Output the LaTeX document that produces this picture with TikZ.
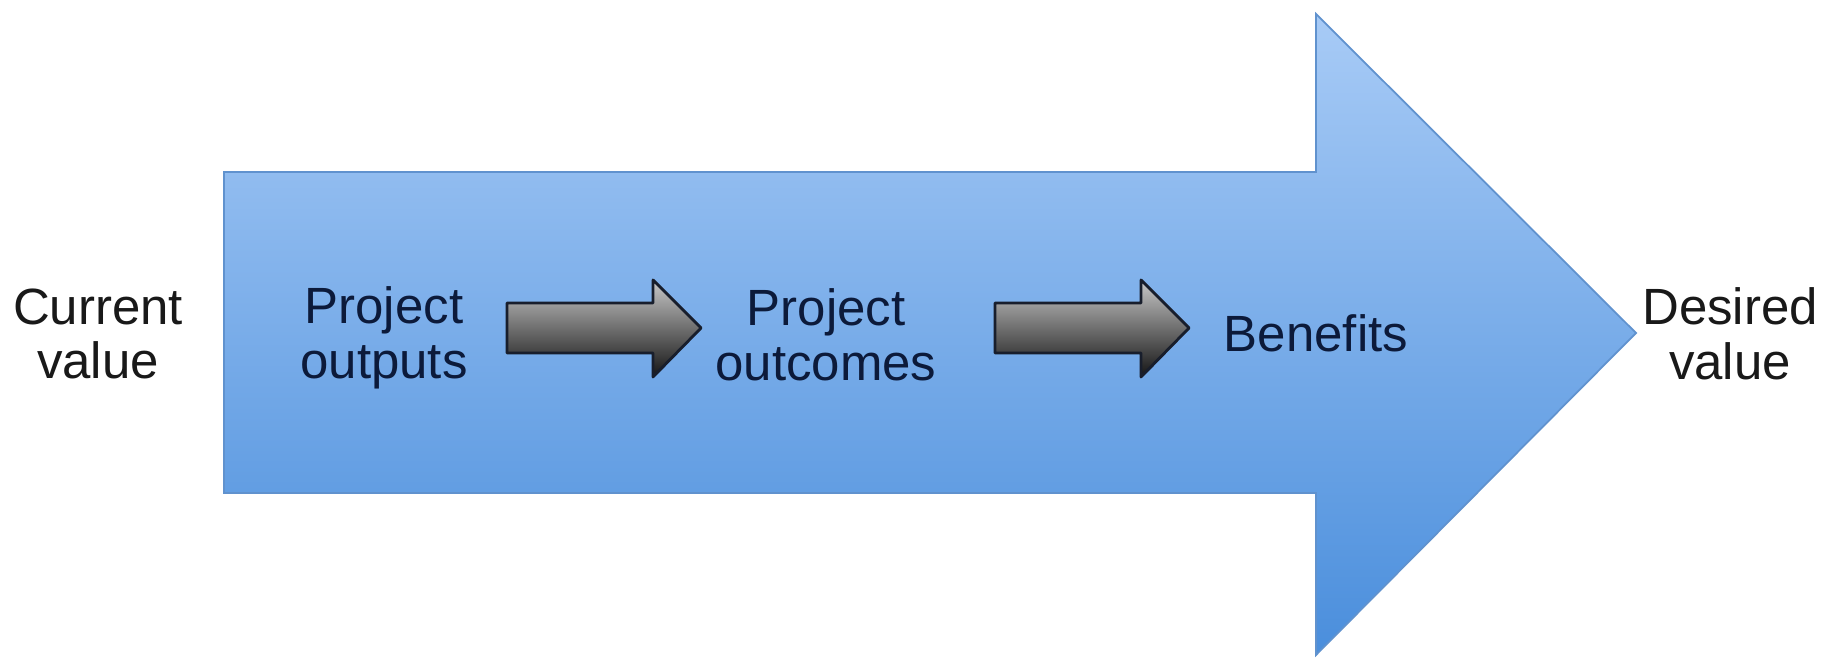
\documentclass[tikz,border=0pt]{standalone}
\usepackage{fontspec}
\setmainfont{Liberation Sans}
\usetikzlibrary{positioning}

\definecolor{arrowtop}{RGB}{168,203,246}
\definecolor{arrowbottom}{RGB}{74,142,220}
\definecolor{arrowline}{RGB}{96,146,206}
\definecolor{navytext}{RGB}{12,26,58}
\definecolor{stubline}{RGB}{24,30,44}

\begin{document}
\begin{tikzpicture}
   \tikzstyle{every node}=[align=center, inner sep=0pt, font=\fontsize{14.5pt}{15.6pt}\selectfont]
   \tikzstyle{endtext}=[text=black!90]
   \tikzstyle{steptext}=[text=navytext]
   \tikzstyle{bigarrow}=[draw=arrowline, line width=0.5pt, top color=arrowtop, bottom color=arrowbottom]
   \tikzstyle{smallarrow}=[draw=stubline, line width=0.8pt, line join=round, top color={rgb,255:red,200;green,200;blue,200}, bottom color={rgb,255:red,20;green,20;blue,20}]

\useasboundingbox (0,0) rectangle (18.39,6.70);

% the large value arrow
\path[bigarrow] (2.24,4.98) -- (13.16,4.98) -- (13.16,6.56) -- (16.36,3.37)
    -- (13.16,0.15) -- (13.16,1.77) -- (2.24,1.77) -- cycle;

\node[endtext] (current) at (0.98,3.36) {Current\\value};
\node[endtext] (desired) at (17.30,3.36) {Desired\\value};

\node[steptext] (outputs) at (3.84,3.32) {Project\\outputs};
\node[steptext] (outcomes) at (8.26,3.35) {Project\\outcomes};
\node[steptext] (benefits) at (13.16,3.37) {Benefits};

% small arrows between the steps
\foreach \dx in {0,4.88} {
  \path[smallarrow, xshift=\dx cm] (5.07,3.67) -- (6.53,3.67) -- (6.53,3.90) -- (7.01,3.42)
      -- (6.53,2.93) -- (6.53,3.17) -- (5.07,3.17) -- cycle;
}

\end{tikzpicture}
\end{document}
